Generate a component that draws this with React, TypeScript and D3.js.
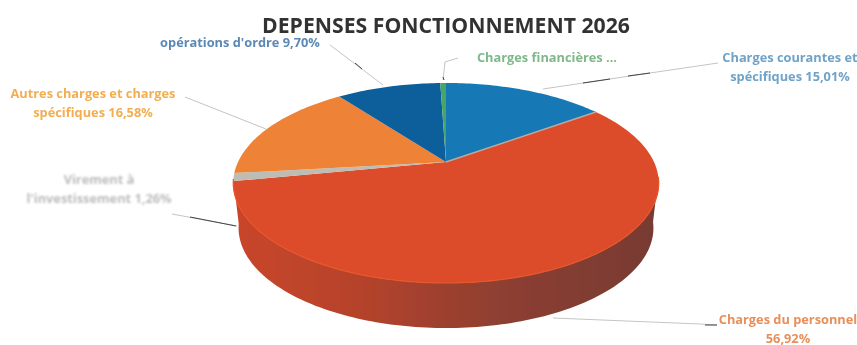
import React from "react";
import * as d3 from "d3";

const title = "DEPENSES FONCTIONNEMENT 2026";
const categories = ["Charges courantes", "Charges du personnel", "Virement", "Autres charges", "Opérations d'ordre", "Charges financières"];
const values = [15.01, 56.92, 1.26, 16.58, 9.7, 0.53];
const sliceColors = ["#1779b5", "#dc4c2b", "#bdbdb5", "#ee8338", "#0c5f9c", "#4aa566"];

const W = 857, H = 345;
const cx = 446, cy = 162, RX = 208, RY = 95.6, K = 0.21, DEPTH = 45, SHRINK = 0.975;

const project = (a: number) => {
  const u = Math.sin(a), v = -Math.cos(a);
  const w = 1 - K * v;
  return [cx + (RX * u) / w, cy + (RY * v) / w] as [number, number];
};
const rim = (a0: number, a1: number) => {
  const n = Math.max(2, Math.ceil((a1 - a0) / 0.02));
  return d3.range(n + 1).map((i) => project(a0 + ((a1 - a0) * i) / n));
};
const linePath = d3.line();

const labels = [
  { lines: ["Charges courantes et", "spécifiques 15,01%"], x: 790, y: 62, fill: "#6fa3c8" },
  { lines: ["Charges du personnel", "56,92%"], x: 788, y: 324, fill: "#e88f5c" },
  { lines: ["Virement à", "l'investissement 1,26%"], x: 99, y: 184, fill: "#bcbcbc" },
  { lines: ["Autres charges et charges", "spécifiques 16,58%"], x: 93, y: 98, fill: "#f2ae50" },
  { lines: ["opérations d'ordre 9,70%"], x: 240, y: 47, fill: "#5c88b5" },
  { lines: ["Charges financières ..."], x: 547, y: 62, fill: "#7fb98a" },
];
const leaders = [
  [[543, 89], [650, 73], [718, 63]],
  [[553, 318], [700, 324], [717, 325]],
  [[172, 214], [237, 226]],
  [[185, 97], [266, 129]],
  [[330, 45], [383, 85]],
  [[443, 80], [445, 62], [458, 58]],
] as [number, number][][];
const leaderMarks = [
  [[583, 83], [610, 79]],
  [[628, 76], [650, 73]],
  [[705, 325], [717, 325]],
  [[190, 217], [236, 226]],
  [[355, 63], [362, 69]],
  [[443, 77], [444, 80]],
] as [number, number][][];

export default function App() {
  const arcs = d3.pie<number>().sort(null)(values);
  const red = arcs[1];
  const front = rim(red.startAngle - 0.3, red.endAngle + 0.02).filter((p) => p[1] > 175);
  const shrink = ([x, y]: [number, number]) => [cx + (x - cx) * SHRINK, y + DEPTH] as [number, number];
  const bottom = [...front].reverse().map(shrink);
  return (
    <svg width={W} height={H} style={{ position: "absolute", left: 0, top: 0, background: "#fff" }} fontFamily="'Open Sans', sans-serif">
      <defs>
        <linearGradient id="side" x1="0" x2="1" y1="0" y2="0">
          <stop offset="0" stopColor="#c9452a" />
          <stop offset="0.3" stopColor="#b5432c" />
          <stop offset="0.62" stopColor="#8e3f30" />
          <stop offset="1" stopColor="#773a30" />
        </linearGradient>
        <filter id="soft"><feGaussianBlur stdDeviation="0.5" /></filter>
        <filter id="softer"><feGaussianBlur stdDeviation="0.8" /></filter>
      </defs>
      <g filter="url(#soft)">
        <path d={linePath([...front, ...bottom]) + "Z"} fill="url(#side)" />
        {arcs.map((d) => (
          <path key={d.index} d={linePath([[cx, cy], ...rim(d.startAngle, d.endAngle)]) + "Z"} fill={sliceColors[d.index]} />
        ))}
        <path d={linePath([[cx, cy], project(arcs[0].endAngle)])!} stroke="#b9a9a0" strokeWidth={1.5} fill="none" />
        <path d={linePath(front)!} stroke="#e8572c" strokeWidth={1.2} fill="none" />
        {leaders.map((l, i) => (
          <path key={i} d={linePath(l)!} fill="none" stroke="#c4c4c4" strokeWidth={1} />
        ))}
        {leaderMarks.map((l, i) => (
          <path key={i} d={linePath(l)!} fill="none" stroke="#444" strokeWidth={1} />
        ))}
      </g>
      <text x={446} y={33} textAnchor="middle" fontSize={22} fontWeight={700} fill="#333" filter="url(#soft)" textLength={368} lengthAdjust="spacingAndGlyphs">{title}</text>
      {labels.map((l, i) => (
        <text key={i} textAnchor="middle" fontSize={12.8} fontWeight={700} fill={l.fill} filter={i === 2 ? "url(#softer)" : "url(#soft)"}>
          {l.lines.map((t, j) => (
            <tspan key={j} x={l.x} y={l.y + j * 18.5}>{t}</tspan>
          ))}
        </text>
      ))}
    </svg>
  );
}
